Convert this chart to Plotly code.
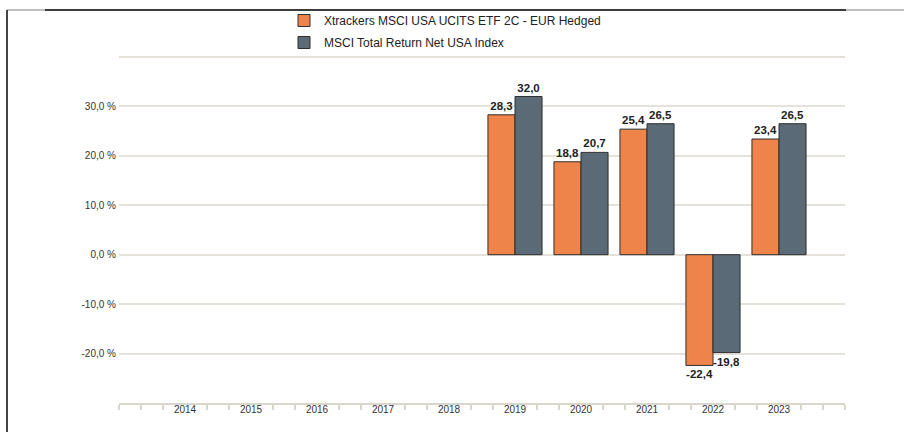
import plotly.graph_objects as go

years = [2014, 2015, 2016, 2017, 2018, 2019, 2020, 2021, 2022, 2023]
fund_name = "Xtrackers MSCI USA UCITS ETF 2C - EUR Hedged"
index_name = "MSCI Total Return Net USA Index"
fund_values = [None, None, None, None, None, 28.3, 18.8, 25.4, -22.4, 23.4]
index_values = [None, None, None, None, None, 32.0, 20.7, 26.5, -19.8, 26.5]
y_ticks = [-20, -10, 0, 10, 20, 30, 40]
y_tick_labels = ["-20,0 %", "-10,0 %", "0,0 %", "10,0 %", "20,0 %", "30,0 %", ""]

W, H = 904, 432
L, R, T, B = 119, 59, 55, 29
pw, ph = W - L - R, H - T - B


def px_x(p):
    return (p - L) / pw


def px_y(p):
    return (H - B - p) / ph


label_font = dict(family="Liberation Sans, Arial, sans-serif", size=11.5, color="#222222")

fig = go.Figure()
fig.add_trace(go.Bar(
    x=years, y=fund_values, name=fund_name, legendgroup="a",
    marker=dict(color="#EE844A", line=dict(color="#2E2E2E", width=1)),
    texttemplate="<b>%{y:.1f}</b>", textposition="outside",
    textfont=label_font, cliponaxis=False, constraintext="none",
))
fig.add_trace(go.Bar(
    x=years, y=index_values, name=index_name, legendgroup="b",
    marker=dict(color="#5A6A76", line=dict(color="#2E2E2E", width=1)),
    texttemplate="<b>%{y:.1f}</b>", textposition="outside",
    textfont=label_font, cliponaxis=False, constraintext="none",
))

minor_vals = [years[0] - 1]
for yv in [years[0] - 1] + years:
    minor_vals += [yv + 1 / 3, yv + 2 / 3]
minor_vals.append(years[-1] + 1)

fig.update_layout(
    width=W, height=H,
    margin=dict(l=L, r=R, t=T, b=B, autoexpand=False),
    paper_bgcolor="white", plot_bgcolor="white",
    barmode="group", bargap=0.18, bargroupgap=0,
    separators=", ",
    font=dict(family="Liberation Sans, Arial, sans-serif", size=10, color="#333333"),
    legend=dict(
        x=px_x(284), y=px_y(6), xanchor="left", yanchor="top",
        font=dict(size=12, color="#222222"), tracegroupgap=3,
        bgcolor="rgba(0,0,0,0)",
    ),
    xaxis=dict(
        range=[years[0] - 1, years[-1] + 1],
        tickmode="array", tickvals=years, ticktext=[str(y) for y in years],
        ticks="", showgrid=False, zeroline=False,
        showline=True, linecolor="#D9D6CB", linewidth=2,
        tickfont=dict(size=10, color="#333333"),
        ticklabelstandoff=-4,
        minor=dict(tickvals=minor_vals, ticks="outside", ticklen=5,
                   tickcolor="#D9D6CB", tickwidth=2, showgrid=False),
    ),
    yaxis=dict(
        range=[-30, 40.4],
        tickmode="array", tickvals=y_ticks, ticktext=y_tick_labels,
        showgrid=True, gridcolor="#E4E2DA", gridwidth=1.5,
        zeroline=False, showline=False, ticks="",
        ticklabelstandoff=2,
        tickfont=dict(size=10, color="#333333"),
    ),
    shapes=[
        dict(type="line", xref="paper", yref="paper",
             x0=px_x(7), x1=px_x(904), y0=px_y(10), y1=px_y(10),
             line=dict(color="#AAAAAA", width=1.5)),
        dict(type="line", xref="paper", yref="paper",
             x0=px_x(45), x1=px_x(846), y0=px_y(10), y1=px_y(10),
             line=dict(color="#111111", width=1.5)),
        dict(type="line", xref="paper", yref="paper",
             x0=px_x(7), x1=px_x(7), y0=px_y(10), y1=px_y(432),
             line=dict(color="#444444", width=2)),
    ],
)

fig.write_html("out.html", config={"displayModeBar": False},
               post_script="document.body.style.margin='0px';")
